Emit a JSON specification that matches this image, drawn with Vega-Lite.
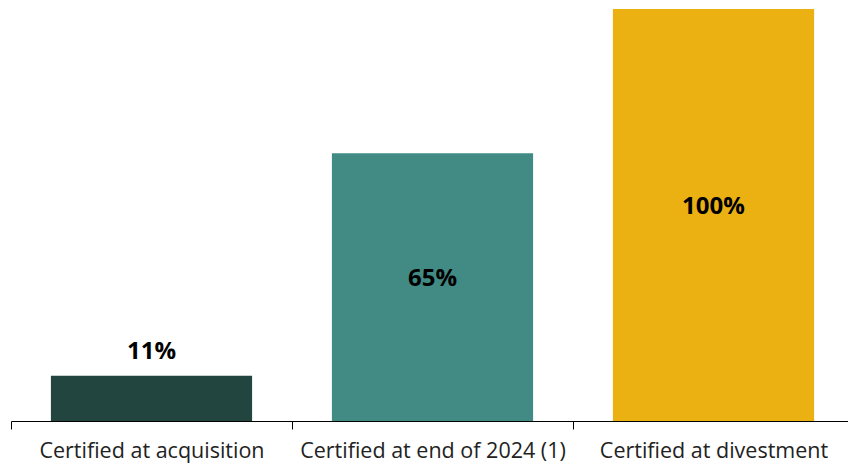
{
  "$schema": "https://vega.github.io/schema/vega-lite/v6.json",
  "width": 843,
  "height": 412,
  "autosize": {"type": "none"},
  "padding": {"left": 11, "top": 9, "right": -6, "bottom": 43},
  "config": {"view": {"stroke": null}, "font": "Open Sans"},
  "data": {"values": [
    {"category": "Certified at acquisition", "value": 11, "label": "11%"},
    {"category": "Certified at end of 2024 (1)", "value": 65, "label": "65%"},
    {"category": "Certified at divestment", "value": 100, "label": "100%"}
  ]},
  "encoding": {
    "x": {"field": "category", "type": "nominal", "sort": null,
      "scale": {"paddingInner": 0, "paddingOuter": 0},
      "axis": {"title": null, "labelAngle": 0, "tickBand": "extent", "labelLimit": 0, "domainColor": "#000000", "tickColor": "#000000", "tickSize": 8, "labelFontSize": 21.5, "labelColor": "#222222", "labelPadding": 11, "labelFont": "Open Sans", "grid": false}}
  },
  "layer": [
    {
      "mark": {"type": "bar", "width": {"band": 0.716}},
      "encoding": {
        "y": {"field": "value", "type": "quantitative", "scale": {"domain": [0, 100]}, "axis": null},
        "color": {"field": "category", "type": "nominal", "sort": null, "legend": null,
          "scale": {"range": ["#22463F", "#418B84", "#EBB113"]}}
      }
    },
    {
      "transform": [{"filter": "datum.value < 20"}],
      "mark": {"type": "text", "fontSize": 24, "fontWeight": "bold", "baseline": "bottom", "dy": -12, "color": "#000000", "font": "Open Sans"},
      "encoding": {
        "y": {"field": "value", "type": "quantitative"},
        "text": {"field": "label"}
      }
    },
    {
      "transform": [{"filter": "datum.value >= 20"}],
      "mark": {"type": "text", "fontSize": 24, "fontWeight": "bold", "baseline": "middle", "dy": -8, "color": "#000000", "font": "Open Sans"},
      "encoding": {
        "y": {"field": "value", "type": "quantitative", "stack": "zero", "bandPosition": 0.5},
        "text": {"field": "label"}
      }
    }
  ]
}
